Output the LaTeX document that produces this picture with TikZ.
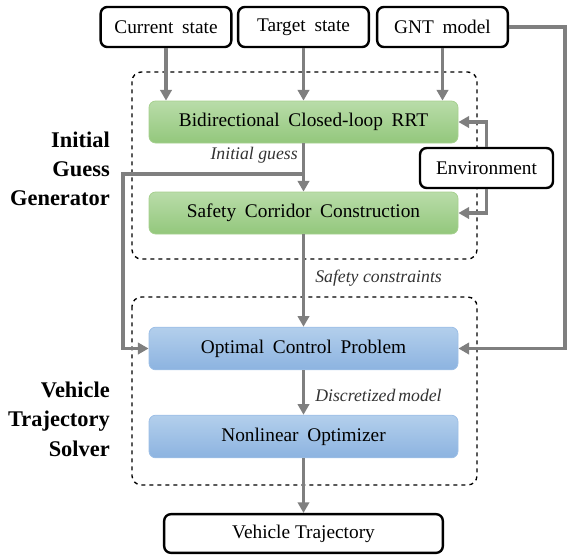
\documentclass[tikz,border=0pt]{standalone}
\usepackage{fontspec}
\setmainfont{Liberation Serif}
\usetikzlibrary{arrows.meta,shadings}
\definecolor{flow}{HTML}{7F7F7F}
\definecolor{greenTop}{HTML}{B9DCA9}
\definecolor{greenBot}{HTML}{93C77C}
\definecolor{greenEdge}{HTML}{A6D08F}
\definecolor{blueTop}{HTML}{B3CFEC}
\definecolor{blueBot}{HTML}{8CB3E0}
\definecolor{blueEdge}{HTML}{9DBFE6}
\tikzset{
  boxfont/.style={font=\fontsize{14.5}{16}\selectfont},
  inbox/.style={draw=black, line width=1.8pt, rounded corners=5pt, fill=white,
    minimum width=98pt, minimum height=30pt, inner sep=0pt, boxfont},
  greenbox/.style={draw=greenEdge, line width=0.6pt, rounded corners=5pt,
    top color=greenTop, bottom color=greenBot,
    minimum width=231.75pt, minimum height=31.5pt, inner sep=0pt, boxfont},
  bluebox/.style={draw=blueEdge, line width=0.6pt, rounded corners=5pt,
    top color=blueTop, bottom color=blueBot,
    minimum width=231.75pt, minimum height=32pt, inner sep=0pt, boxfont},
  group/.style={draw=black, dashed, line width=1pt, rounded corners=7pt},
  flowline/.style={draw=flow, line width=2.4pt},
  flowarrow/.style={flowline, -{Triangle[length=8pt,width=8.5pt]}},
  edgelabel/.style={font=\itshape\fontsize{13.3}{15}\selectfont, text=black!80, inner sep=0pt},
  sidelabel/.style={font=\bfseries\fontsize{16.8}{22}\selectfont, align=right, inner sep=0pt},
}
\newcommand{\wsp}{\hspace{0.45em}}
\begin{document}
\begin{tikzpicture}[x=0.75pt, y=-0.75pt]
  \useasboundingbox (0,0) rectangle (567,557);

  % stage frames
  \draw[group] (132,72) rectangle (477,259);
  \draw[group] (132,297) rectangle (477,485);

  % inputs
  \node[inbox] (cur) at (166,27) {Current\wsp state};
  \node[inbox] (tgt) at (303.5,27) {Target\wsp state};
  \node[inbox] (gnt) at (442.5,27) {GNT\wsp model};
  \node[inbox, minimum width=99.75pt] (env) at (486.5,168) {Environment};

  % initial guess generator
  \node[greenbox] (rrt) at (303.5,122) {Bidirectional\wsp Closed-loop\wsp RRT};
  \node[greenbox] (scc) at (303.5,213) {Safety\wsp Corridor\wsp Construction};

  % trajectory solver
  \node[bluebox] (ocp) at (303.5,348.5) {Optimal\wsp Control\wsp Problem};
  \node[bluebox] (nlo) at (303.5,436.5) {Nonlinear\wsp Optimizer};

  % output
  \node[inbox, minimum width=209pt, minimum height=29pt] (out) at (303.5,533.5) {Vehicle Trajectory};

  % side labels
  \node[sidelabel, anchor=east] (lg) at (110,169) {Initial\\Guess\\Generator};
  \node[sidelabel, anchor=east] (ls) at (110,419) {Vehicle\\Trajectory\\Solver};

  % helper points
  \coordinate (split) at (303.5,174);
  \coordinate (gx) at (565,27);
  \coordinate (gy) at (565,348.5);
  \coordinate (lx) at (123,174);
  \coordinate (ly) at (123,348.5);

  % connectors
  \draw[flowarrow] (cur.south) -- (cur.south |- rrt.north);
  \draw[flowarrow] (tgt.south) -- (rrt.north);
  \draw[flowarrow] (gnt.south) -- (gnt.south |- rrt.north);
  \draw[flowarrow] (rrt.south) -- (scc.north);
  \draw[flowarrow] (split) -- (lx) -- (ly) -- (ocp.west);
  \draw[flowarrow] (env.north) |- (rrt.east);
  \draw[flowarrow] (env.south) |- (scc.east);
  \draw[flowarrow] (gnt.east) -- (gx) -- (gy) -- (ocp.east);
  \draw[flowarrow] (scc.south) -- (ocp.north);
  \draw[flowarrow] (ocp.south) -- (nlo.north);
  \draw[flowarrow] (nlo.south) -- (out.north);

  % connector labels
  \node[edgelabel, anchor=east] (l1) at (298,155) {Initial guess};
  \node[edgelabel, anchor=west] (l2) at (315,278) {Safety constraints};
  \node[edgelabel, anchor=west] (l3) at (315,395) {Discretized\,model};
\end{tikzpicture}
\end{document}
